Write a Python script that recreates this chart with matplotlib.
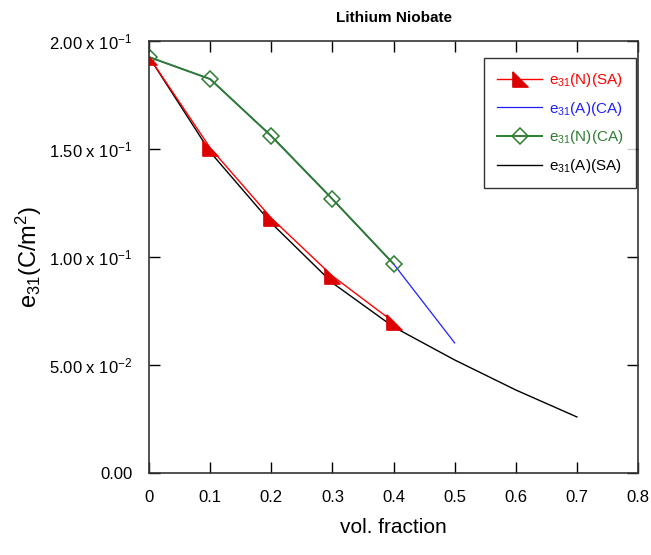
import matplotlib.pyplot as plt
import numpy as np

plt.rcParams['font.family'] = ['Liberation Sans', 'DejaVu Sans']
plt.rcParams['mathtext.fontset'] = 'custom'
plt.rcParams['mathtext.rm'] = 'Liberation Sans'
plt.rcParams['mathtext.it'] = 'Liberation Sans'

x_nsa = [0.0, 0.1, 0.2, 0.3, 0.4]
y_nsa = [0.1926, 0.1505, 0.118, 0.0912, 0.0699]

x_aca = [0.0, 0.1, 0.2, 0.3, 0.4, 0.5]
y_aca = [0.1926, 0.1824, 0.156, 0.1268, 0.0968, 0.0602]

x_nca = [0.0, 0.1, 0.2, 0.3, 0.4]
y_nca = [0.1926, 0.1824, 0.156, 0.1268, 0.0968]

x_asa = [0.0, 0.1, 0.2, 0.3, 0.4, 0.5, 0.6, 0.7]
y_asa = [0.1926, 0.1486, 0.1157, 0.088, 0.0676, 0.0523, 0.0384, 0.0259]

yticks = [0.0, 0.05, 0.10, 0.15, 0.20]
ylabels = ['0.00', r'5.00 x 10$^{-2}$', r'1.00 x 10$^{-1}$',
           r'1.50 x 10$^{-1}$', r'2.00 x 10$^{-1}$']

tri = [(-1, 1), (-1, -1), (1, -1), (-1, 1)]

fig = plt.figure(figsize=(6.51, 5.55), dpi=100)
ax = fig.add_axes([0.229, 0.148, 0.751, 0.778])

ax.plot(x_aca, y_aca, color='#2020ff', lw=0.9, label=r'e$_{31}$(A)(CA)')
ax.plot(x_asa, y_asa, color='black', lw=1, label=r'e$_{31}$(A)(SA)')
ax.plot(x_nca, y_nca, color='#2e7d32', lw=1.4, marker='D', ms=8, mfc='none',
        mec='#2e7d32', mew=1.1, label=r'e$_{31}$(N)(CA)')
ax.plot(x_nsa, y_nsa, color='red', lw=1, marker=tri, ms=11, mfc='#dd0000',
        mec='#dd0000', label=r'e$_{31}$(N)(SA)')

h, l = ax.get_legend_handles_labels()
order = [3, 0, 2, 1]
leg = ax.legend([h[i] for i in order], [l[i] for i in order], loc='upper right',
                bbox_to_anchor=(0.996, 0.961), borderaxespad=0, fontsize=11,
                frameon=True, fancybox=False, edgecolor='black', handlelength=3,
                handletextpad=0.4, borderpad=0.85, labelspacing=0.7)
leg.get_frame().set_linewidth(1)
for t, c in zip(leg.get_texts(), ['red', '#2020ff', '#2e7d32', 'black']):
    t.set_color(c)

ax.set_xlim(0, 0.8)
ax.set_ylim(0, 0.2)
ax.set_xticks(np.arange(0, 0.81, 0.1))
ax.set_xticklabels(['0', '0.1', '0.2', '0.3', '0.4', '0.5', '0.6', '0.7', '0.8'])
ax.set_yticks(yticks)
ax.set_yticklabels(ylabels)
ax.tick_params(axis='both', direction='in', length=8, width=1, top=True,
               right=True, labelsize=12, pad=12)
for s in ax.spines.values():
    s.set_linewidth(1.2)
    s.set_color('#333333')

ax.set_xlabel('vol. fraction', fontsize=15, labelpad=10)
ax.set_ylabel(r'e$_{31}$(C/m$^2$)', fontsize=17, labelpad=4)
ax.set_title('Lithium Niobate', fontsize=11, fontweight='bold', pad=14)

fig.savefig('out.png', dpi=100)
